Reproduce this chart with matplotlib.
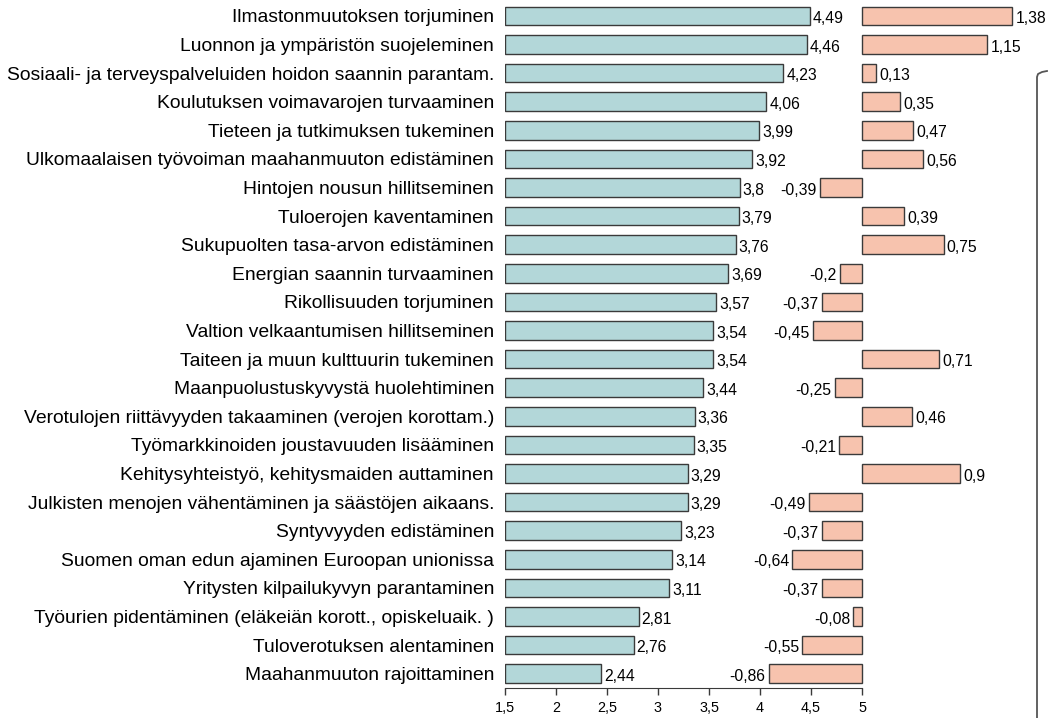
import matplotlib.pyplot as plt
from matplotlib.lines import Line2D

plt.rcParams['font.family'] = ['Liberation Sans', 'DejaVu Sans']

labels = [
    "Ilmastonmuutoksen torjuminen",
    "Luonnon ja ympäristön suojeleminen",
    "Sosiaali- ja terveyspalveluiden hoidon saannin parantam.",
    "Koulutuksen voimavarojen turvaaminen",
    "Tieteen ja tutkimuksen tukeminen",
    "Ulkomaalaisen työvoiman maahanmuuton edistäminen",
    "Hintojen nousun hillitseminen",
    "Tuloerojen kaventaminen",
    "Sukupuolten tasa-arvon edistäminen",
    "Energian saannin turvaaminen",
    "Rikollisuuden torjuminen",
    "Valtion velkaantumisen hillitseminen",
    "Taiteen ja muun kulttuurin tukeminen",
    "Maanpuolustuskyvystä huolehtiminen",
    "Verotulojen riittävyyden takaaminen (verojen korottam.)",
    "Työmarkkinoiden joustavuuden lisääminen",
    "Kehitysyhteistyö, kehitysmaiden auttaminen",
    "Julkisten menojen vähentäminen ja säästöjen aikaans.",
    "Syntyvyyden edistäminen",
    "Suomen oman edun ajaminen Euroopan unionissa",
    "Yritysten kilpailukyvyn parantaminen",
    "Työurien pidentäminen (eläkeiän korott., opiskeluaik. )",
    "Tuloverotuksen alentaminen",
    "Maahanmuuton rajoittaminen",
]
means = [4.49, 4.46, 4.23, 4.06, 3.99, 3.92, 3.8, 3.79, 3.76, 3.69, 3.57, 3.54,
         3.54, 3.44, 3.36, 3.35, 3.29, 3.29, 3.23, 3.14, 3.11, 2.81, 2.76, 2.44]
diffs = [1.38, 1.15, 0.13, 0.35, 0.47, 0.56, -0.39, 0.39, 0.75, -0.2, -0.37, -0.45,
         0.71, -0.25, 0.46, -0.21, 0.9, -0.49, -0.37, -0.64, -0.37, -0.08, -0.55, -0.86]
xticks = [1.5, 2, 2.5, 3, 3.5, 4, 4.5, 5]

teal = '#b3d7d9'
salmon = '#f7c3ae'
edge = '#3a3a3a'

def fmt(v):
    return str(v).replace('.', ',')

W, H = 1050, 718
fig = plt.figure(figsize=(W / 100, H / 100), dpi=100)

# left axes: 1.5 at x=505px, 5 at x=862px
ax_bottom = 30 / H
ax_height = 686.3 / H
ax = fig.add_axes([505 / W, ax_bottom, 357 / W, ax_height])
y = list(range(len(labels)))
ax.barh(y, [m - 1.5 for m in means], left=1.5, height=0.65, color=teal,
        edgecolor=edge, linewidth=1)
for yi, m in zip(y, means):
    ax.text(m + 0.03, yi + 0.09, fmt(m), va='center', ha='left', fontsize=11.3)
ax.set_xlim(1.5, 5)
ax.set_ylim(len(labels) - 0.5, -0.5)
ax.set_yticks(y)
ax.set_yticklabels(labels, fontsize=13.9)
ax.tick_params(axis='y', length=0, pad=8)
ax.set_xticks(xticks)
ax.set_xticklabels([fmt(t) for t in xticks], fontsize=10.4)
ax.tick_params(axis='x', length=5, width=1, color=edge, pad=4)
for s in ['top', 'right', 'left']:
    ax.spines[s].set_visible(False)
ax.spines['bottom'].set_color(edge)
ax.patch.set_alpha(0)

# right axes: zero at x=862px, ~108.7 px per unit
ppu = 108.7
ax2 = fig.add_axes([0, ax_bottom, 1, ax_height])
ax2.set_xlim(-862 / ppu, (W - 862) / ppu)
ax2.set_ylim(len(labels) - 0.5, -0.5)
ax2.barh(y, diffs, height=0.65, color=salmon, edgecolor=edge, linewidth=1)
for yi, d in zip(y, diffs):
    if d >= 0:
        ax2.text(d + 0.03, yi + 0.09, fmt(d), va='center', ha='left', fontsize=11.3)
    else:
        ax2.text(d - 0.03, yi + 0.09, fmt(d), va='center', ha='right', fontsize=11.3)
ax2.axis('off')

# bracket line on the right
bx = [1047 / W, 1042 / W, 1038 / W, 1037 / W, 1037 / W]
by = [1 - 71 / H, 1 - 72 / H, 1 - 74 / H, 1 - 77 / H, 0]
fig.add_artist(Line2D(bx, by, color='#555555', linewidth=1.3))

fig.savefig('out.png', dpi=100)
